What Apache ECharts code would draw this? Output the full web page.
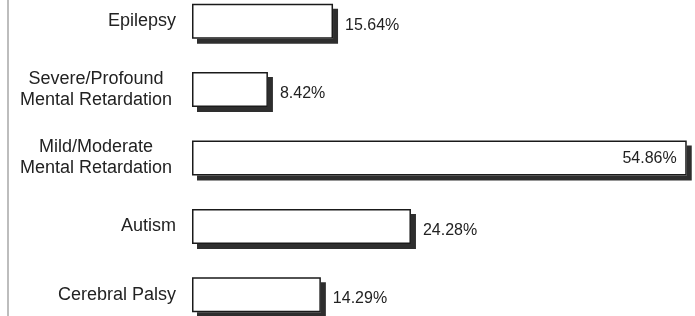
<!DOCTYPE html>
<html>
<head>
<meta charset="utf-8">
<script src="https://cdn.jsdelivr.net/npm/echarts@6/dist/echarts.min.js"></script>
<style>
  html, body { margin: 0; padding: 0; background: #fff; }
  #chart { width: 695px; height: 316px; }
</style>
</head>
<body>
<div id="chart"></div>
<script>
'use strict';

// categories from top to bottom
const categories = [
  'Epilepsy',
  'Severe/Profound\nMental Retardation',
  'Mild/Moderate\nMental Retardation',
  'Autism',
  'Cerebral Palsy'
];
const percents = [15.64, 8.42, 54.86, 24.28, 14.29];
const insideLabel = [false, false, true, false, false];

(function () {
  const chart = echarts.init(document.getElementById('chart'));
  const FONT = '"Liberation Sans", Arial, sans-serif';

  function catLabel(value) {
    const lines = String(value).split('\n');
    if (lines.length === 1) return '{s|' + value + '}';
    return lines.map((line) => '{m|' + line + '}').join('\n');
  }

  const option = {
    animation: false,
    backgroundColor: '#fff',
    grid: { left: 192, right: 7, top: -13, bottom: -13, outerBoundsMode: 'none', containLabel: false },
    graphic: [{
      type: 'rect',
      shape: { x: 7, y: 0, width: 2, height: 316 },
      style: { fill: '#bdbdbd' },
      silent: true
    }],
    xAxis: {
      type: 'value',
      min: 0,
      max: 55,
      show: false
    },
    yAxis: {
      type: 'category',
      inverse: true,
      data: categories,
      axisLine: { show: false },
      axisTick: { show: false },
      splitLine: { show: false },
      axisLabel: {
        margin: 16,
        align: 'right',
        formatter: catLabel,
        rich: {
          s: { fontFamily: FONT, fontSize: 18, color: '#222', align: 'right' },
          m: { fontFamily: FONT, fontSize: 18, color: '#222', width: 160, align: 'center', lineHeight: 21 }
        }
      }
    },
    series: [{
      // white body that casts the dark drop shadow
      type: 'bar',
      barWidth: 35,
      data: percents,
      silent: true,
      itemStyle: {
        color: '#ffffff',
        borderWidth: 0,
        shadowColor: '#2e2e2e',
        shadowBlur: 0,
        shadowOffsetX: 5,
        shadowOffsetY: 5
      }
    }, {
      // outline and value label on top
      type: 'bar',
      barWidth: 35,
      barGap: '-100%',
      data: percents.map((v, i) => ({
        value: v,
        label: insideLabel[i]
          ? { position: 'insideRight', distance: 10, offset: [0, 1] }
          : { position: 'right', distance: 12, offset: [0, 4] }
      })),
      itemStyle: {
        color: 'rgba(255,255,255,0)',
        borderColor: '#1a1a1a',
        borderWidth: 1.5
      },
      label: {
        show: true,
        fontFamily: FONT,
        fontSize: 16,
        color: '#222',
        formatter: (p) => p.value.toFixed(2) + '%'
      }
    }]
  };

  chart.setOption(option);
})();
</script>
</body>
</html>
